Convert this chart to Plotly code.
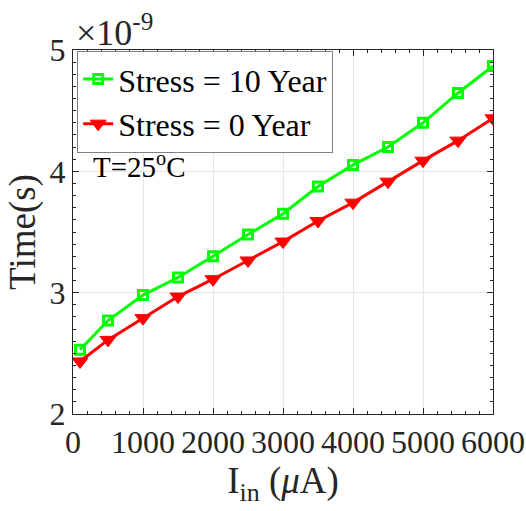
import plotly.graph_objects as go

# Input current (uA) and delay time (units of 1e-9 s)
current_ua = [100, 500, 1000, 1500, 2000, 2500, 3000, 3500, 4000, 4500, 5000, 5500, 6000]
time_stress_10y = [2.53, 2.77, 2.98, 3.125, 3.30, 3.48, 3.65, 3.875, 4.053, 4.20, 4.40, 4.646, 4.868]
time_stress_0y = [2.433, 2.611, 2.79, 2.968, 3.111, 3.265, 3.421, 3.591, 3.742, 3.915, 4.088, 4.253, 4.437]

x_ticks = [0, 1000, 2000, 3000, 4000, 5000, 6000]
y_ticks = [2, 3, 4, 5]

FONT = "Liberation Serif, Times New Roman, serif"
INK = "#262626"

fig = go.Figure()
fig.add_trace(go.Scatter(
    x=current_ua, y=time_stress_10y, mode="lines+markers",
    name="Stress = 10 Year",
    line=dict(color="#00ff00", width=3),
    marker=dict(symbol="square-open", size=9, color="#00ff00", line=dict(width=3, color="#00ff00")),
))
fig.add_trace(go.Scatter(
    x=current_ua, y=time_stress_0y, mode="lines+markers",
    name="Stress = 0 Year",
    line=dict(color="#ff0000", width=3),
    marker=dict(symbol="triangle-down", size=14, color="#ff0000", line=dict(width=1, color="#ff0000")),
))

axis_common = dict(
    showline=True, linecolor=INK, linewidth=1, mirror="allticks",
    ticks="inside", ticklen=6, tickcolor=INK,
    showgrid=True, gridcolor="#e6e6e6", gridwidth=1,
    zeroline=False, tickangle=0, automargin=False,
    tickfont=dict(family=FONT, size=32, color=INK),
)

fig.update_xaxes(
    range=[0, 6000], tickvals=x_ticks, ticktext=[str(v) for v in x_ticks],
    minor=dict(dtick=200, ticks="inside", ticklen=3, tickcolor=INK, showgrid=False),
    title=dict(text="I<sub>in</sub> (<i>μ</i>A)", font=dict(family=FONT, size=37, color=INK), standoff=0),
    **axis_common,
)
fig.update_yaxes(
    range=[2, 5], tickvals=y_ticks, ticktext=[str(v) for v in y_ticks],
    minor=dict(dtick=0.1, ticks="inside", ticklen=3, tickcolor=INK, showgrid=False),
    title=dict(text="Time(s)", font=dict(family=FONT, size=37, color=INK), standoff=2),
    **axis_common,
)

fig.add_annotation(
    x=0, y=1, xref="paper", yref="paper", xanchor="left", yanchor="bottom",
    text="×10<sup>-9</sup>", showarrow=False, xshift=1, yshift=-5,
    font=dict(family=FONT, size=36, color=INK),
)
fig.add_annotation(
    x=250, y=4.05, xref="x", yref="y", xanchor="left", yanchor="middle",
    text="T=25<sup>o</sup>C", showarrow=False,
    font=dict(family=FONT, size=29, color="#000000"),
)

fig.update_layout(
    width=526, height=511,
    margin=dict(l=73, r=33, t=50, b=97),
    paper_bgcolor="white", plot_bgcolor="white",
    showlegend=True,
    legend=dict(
        x=0.01, y=0.998, xanchor="left", yanchor="top",
        bgcolor="white", bordercolor="#808080", borderwidth=1,
        font=dict(family=FONT, size=32, color="#000000"),
        itemwidth=30, tracegroupgap=0,
    ),
)

fig.write_html("out.html")
